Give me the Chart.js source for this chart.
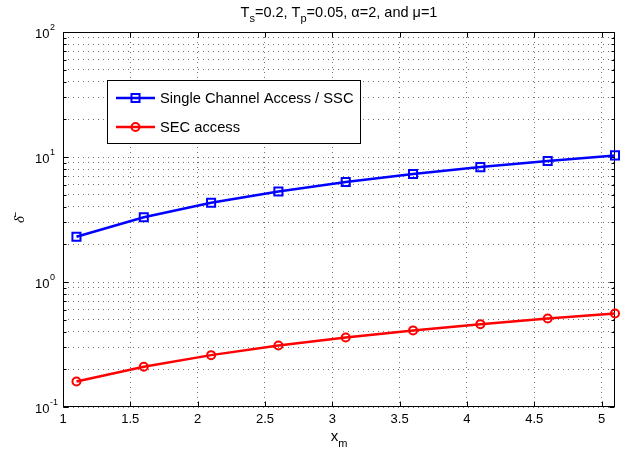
<!DOCTYPE html>
<html><head><meta charset="utf-8">
<script src="https://cdn.jsdelivr.net/npm/chart.js@4/dist/chart.umd.min.js"></script>
<style>html,body{margin:0;padding:0;background:#fff}#wrap{width:628px;height:455px;position:relative}</style>
</head><body><div id="wrap"><canvas id="c" width="628" height="455"></canvas></div>
<script>
// ---- data ----
const xValues = [1.1, 1.6, 2.1, 2.6, 3.1, 3.6, 4.1, 4.6, 5.1];
const sscValues = [2.3, 3.3, 4.3, 5.3, 6.3, 7.3, 8.3, 9.3, 10.3];
const secValues = [0.16, 0.21, 0.26, 0.31, 0.36, 0.41, 0.46, 0.51, 0.56];
const seriesLabels = ['Single Channel Access / SSC', 'SEC access'];
const xTickValues = [1, 1.5, 2, 2.5, 3, 3.5, 4, 4.5, 5];
const xTickLabels = ['1', '1.5', '2', '2.5', '3', '3.5', '4', '4.5', '5'];
const yDecadeValues = [0.1, 1, 10, 100];
const yDecadeExponents = ['-1', '0', '1', '2'];
const titleParts = [['T', 0], ['s', 1], ['=0.2, T', 0], ['p', 1], ['=0.05, \u03B1=2, and \u03BC=1', 0]];
const xLabelParts = [['x', 0], ['m', 1]];
const yLabelText = '\u03B4\u0304';

// minor tick positions of the log axis (1..9 per decade)
const yGridValues = [];
for (let d = 0; d < yDecadeValues.length - 1; d++) {
  for (let k = 1; k <= 9; k++) yGridValues.push(+(yDecadeValues[d] * k).toPrecision(3));
}
yGridValues.push(yDecadeValues[yDecadeValues.length - 1]);

const FONT = '"Liberation Sans", Arial, Helvetica, sans-serif';

function drawParts(ctx, parts, cx, baseline, size, subSize, subDrop) {
  let total = 0;
  const widths = parts.map(p => {
    ctx.font = (p[1] ? subSize : size) + 'px ' + FONT;
    const w = ctx.measureText(p[0]).width;
    total += w;
    return w;
  });
  let x = cx - total / 2;
  ctx.textAlign = 'left';
  ctx.textBaseline = 'alphabetic';
  parts.forEach((p, i) => {
    ctx.font = (p[1] ? subSize : size) + 'px ' + FONT;
    ctx.fillText(p[0], x, baseline + (p[1] ? subDrop : 0));
    x += widths[i];
  });
}

const framePlugin = {
  id: 'frame',
  beforeDatasetsDraw(chart) {
    const ctx = chart.ctx, a = chart.chartArea;
    const xs = chart.scales.x, ys = chart.scales.y;
    const L = Math.round(a.left) + 0.5, R = Math.round(a.right) - 0.5;
    const T = Math.round(a.top) + 0.5, B = Math.round(a.bottom) - 0.5;
    ctx.save();
    ctx.strokeStyle = '#000';
    ctx.lineWidth = 1;
    ctx.setLineDash([]);
    ctx.strokeRect(L, T, R - L, B - T);
    ctx.beginPath();
    xTickValues.forEach(v => {
      const px = Math.round(xs.getPixelForValue(v)) + 0.5;
      ctx.moveTo(px, B); ctx.lineTo(px, B - 5);
      ctx.moveTo(px, T); ctx.lineTo(px, T + 5);
    });
    yGridValues.forEach(v => {
      const major = yDecadeValues.includes(v);
      const len = major ? 5 : 3;
      const py = Math.round(ys.getPixelForValue(v)) + 0.5;
      ctx.moveTo(L, py); ctx.lineTo(L + len, py);
      ctx.moveTo(R, py); ctx.lineTo(R - len, py);
    });
    ctx.stroke();
    ctx.restore();
  },
  afterDraw(chart) {
    const ctx = chart.ctx, a = chart.chartArea;
    const xs = chart.scales.x, ys = chart.scales.y;
    ctx.save();
    ctx.fillStyle = '#000';
    // x tick labels
    ctx.font = '13px ' + FONT;
    ctx.textAlign = 'center';
    ctx.textBaseline = 'alphabetic';
    xTickValues.forEach((v, i) => {
      ctx.fillText(xTickLabels[i], xs.getPixelForValue(v), a.bottom + 16);
    });
    // y tick labels 10^k
    yDecadeValues.forEach((v, i) => {
      const py = ys.getPixelForValue(v);
      ctx.textAlign = 'left';
      ctx.font = '13px ' + FONT;
      ctx.fillText('10', 35, py + 6);
      const w = ctx.measureText('10').width;
      ctx.font = '9px ' + FONT;
      ctx.fillText(yDecadeExponents[i], 35 + w + 0.5, py - 2);
    });
    // title
    drawParts(ctx, titleParts, (a.left + a.right) / 2, 17, 14.5, 11, 5);
    // x label
    drawParts(ctx, xLabelParts, (a.left + a.right) / 2, 441, 15, 11, 6);
    // y label
    ctx.save();
    ctx.translate(24, (a.top + a.bottom) / 2);
    ctx.rotate(-Math.PI / 2);
    ctx.font = 'italic 15px "Liberation Serif", serif';
    ctx.textAlign = 'center';
    ctx.textBaseline = 'alphabetic';
    ctx.fillText(yLabelText, 0, 0);
    ctx.restore();
    // legend
    const bx = 107.5, by = 80.5, bw = 253, bh = 63;
    ctx.fillStyle = '#fff';
    ctx.fillRect(bx, by, bw, bh);
    ctx.strokeStyle = '#000';
    ctx.lineWidth = 1;
    ctx.strokeRect(bx, by, bw, bh);
    const rows = [98, 127];
    chart.data.datasets.forEach((ds, i) => {
      const y = rows[i];
      ctx.strokeStyle = ds.borderColor;
      ctx.lineWidth = ds.borderWidth;
      ctx.beginPath(); ctx.moveTo(116, y); ctx.lineTo(155, y); ctx.stroke();
      ctx.lineWidth = ds.pointBorderWidth;
      ctx.fillStyle = 'rgba(0,0,0,0)';
      Chart.helpers.drawPoint(ctx, { pointStyle: ds.pointStyle, radius: ds.pointRadius, rotation: 0, borderWidth: ds.pointBorderWidth }, 135.5, y);
      ctx.fillStyle = '#000';
      ctx.font = '14.7px ' + FONT;
      ctx.textAlign = 'left';
      ctx.textBaseline = 'middle';
      ctx.fillText(seriesLabels[i], 160, y + 1);
    });
    ctx.restore();
  }
};

new Chart(document.getElementById('c'), {
  type: 'line',
  data: {
    datasets: [
      {
        label: seriesLabels[0],
        data: xValues.map((x, i) => ({ x: x, y: sscValues[i] })),
        borderColor: '#0000ff', backgroundColor: 'rgba(0,0,0,0)',
        borderWidth: 2.5, pointStyle: 'rect', pointRadius: 5.7,
        pointBorderWidth: 2, pointBackgroundColor: 'rgba(0,0,0,0)', pointBorderColor: '#0000ff',
        tension: 0, clip: false
      },
      {
        label: seriesLabels[1],
        data: xValues.map((x, i) => ({ x: x, y: secValues[i] })),
        borderColor: '#ff0000', backgroundColor: 'rgba(0,0,0,0)',
        borderWidth: 2.5, pointStyle: 'circle', pointRadius: 4,
        pointBorderWidth: 2, pointBackgroundColor: 'rgba(0,0,0,0)', pointBorderColor: '#ff0000',
        tension: 0, clip: false
      }
    ]
  },
  options: {
    responsive: false, animation: false, devicePixelRatio: 1,
    layout: { padding: { left: 63, top: 32, right: 13, bottom: 48 } },
    plugins: { legend: { display: false }, title: { display: false }, tooltip: { enabled: false } },
    scales: {
      x: {
        type: 'linear', min: 1, max: 5.1,
        afterBuildTicks: s => { s.ticks = xTickValues.map(v => ({ value: v })); },
        ticks: { display: false },
        grid: { color: 'rgba(0,0,0,0.55)', lineWidth: 1, drawTicks: false, borderDash: [1, 4] },
        border: { display: false, dash: [1, 4] }
      },
      y: {
        type: 'logarithmic', min: 0.1, max: 100,
        afterBuildTicks: s => { s.ticks = yGridValues.map(v => ({ value: v })); },
        ticks: { display: false },
        grid: { color: 'rgba(0,0,0,0.55)', lineWidth: 1, drawTicks: false, borderDash: [1, 4] },
        border: { display: false, dash: [1, 4] }
      }
    }
  },
  plugins: [framePlugin]
});
</script>
</body></html>
